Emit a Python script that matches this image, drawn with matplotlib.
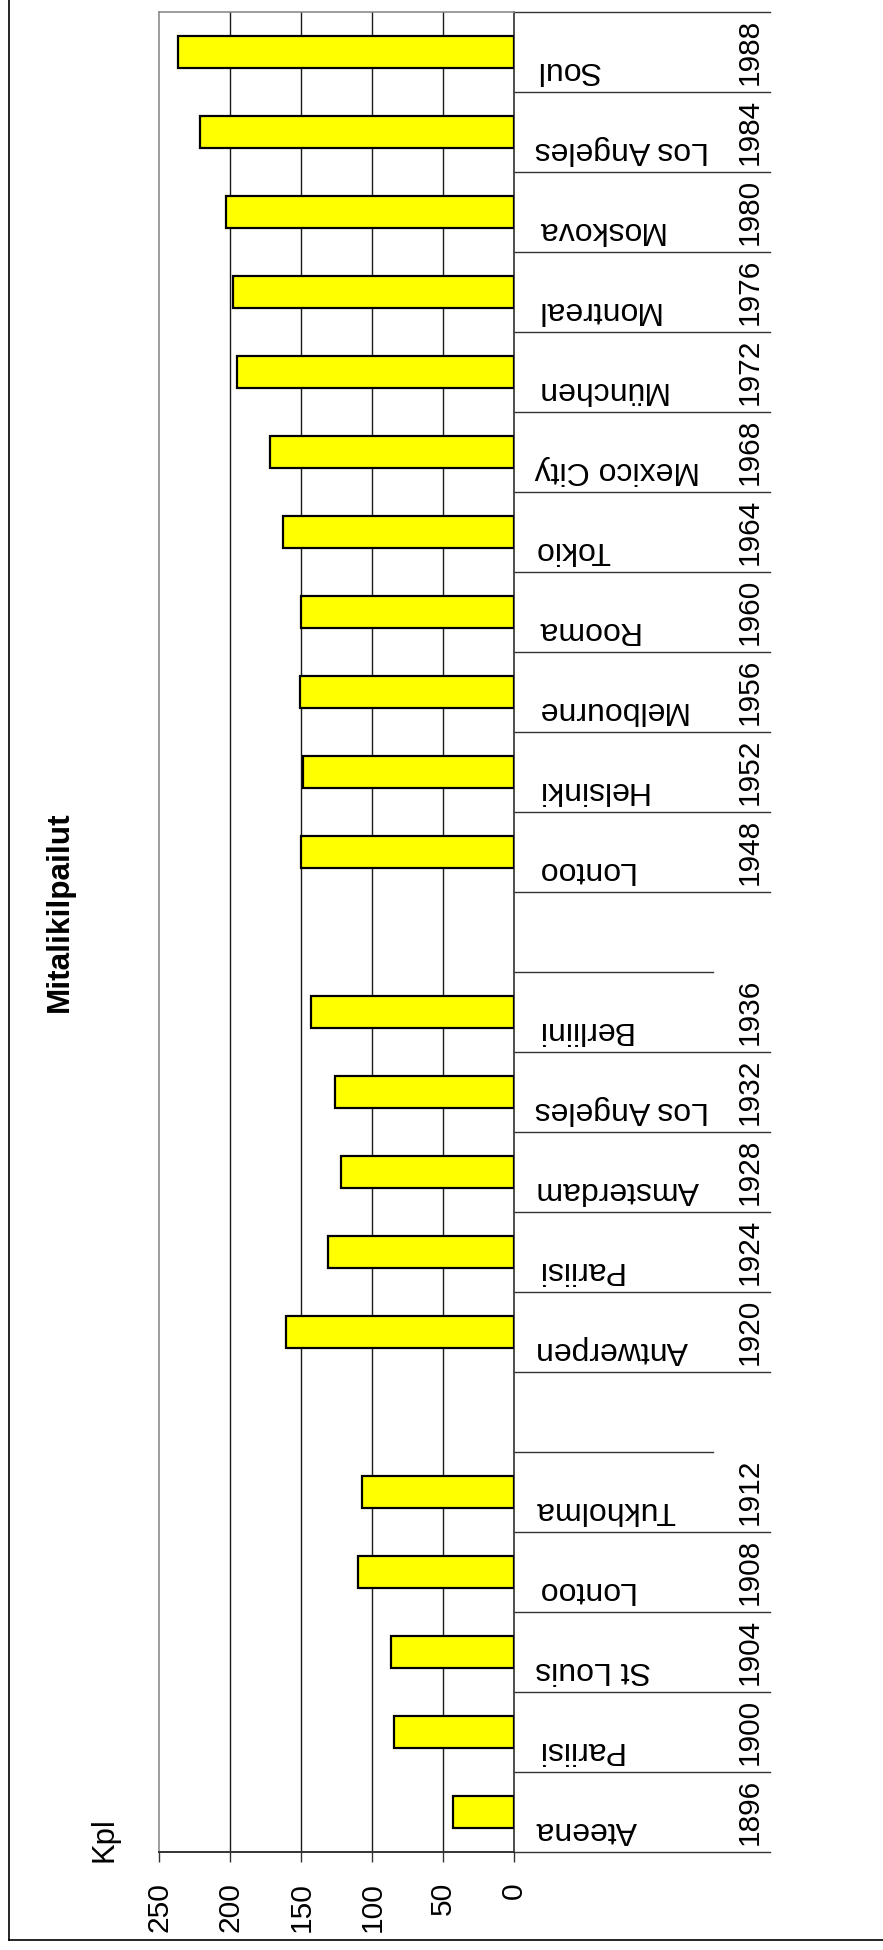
import numpy as np
import matplotlib
matplotlib.use('Agg')
import matplotlib.pyplot as plt
from matplotlib.lines import Line2D

# ---- data ----
years = ['1896', '1900', '1904', '1908', '1912', '', '1920', '1924', '1928', '1932', '1936', '',
         '1948', '1952', '1956', '1960', '1964', '1968', '1972', '1976', '1980', '1984', '1988']
cities = ['Ateena', 'Pariisi', 'St Louis', 'Lontoo', 'Tukholma', '', 'Antwerpen', 'Pariisi',
          'Amsterdam', 'Los Angeles', 'Berliini', '', 'Lontoo', 'Helsinki', 'Melbourne', 'Rooma',
          'Tokio', 'Mexico City', 'München', 'Montreal', 'Moskova', 'Los Angeles', 'Soul']
medal_events = [43, 85, 87, 110, 107, None, 161, 131, 122, 126, 143, None,
                150, 149, 151, 150, 163, 172, 195, 198, 203, 221, 237]
value_ticks = [0, 50, 100, 150, 200, 250]
title = 'Mitalikilpailut'
unit_label = 'Kpl'

plt.rcParams['font.family'] = ['Liberation Sans', 'DejaVu Sans']

W, H = 883, 1950
fig = plt.figure(figsize=(W / 100, H / 100), dpi=100)
L, R, T, B = 159.3, 514.3, 11.7, 1852.3
ax = fig.add_axes([L / W, 1 - B / H, (R - L) / W, (B - T) / H])

n = len(years)
pos = np.arange(n)
ax.set_ylim(-0.5, n - 0.5)
ax.set_xlim(value_ticks[-1], value_ticks[0])

idx = [i for i, v in enumerate(medal_events) if v is not None]
ax.barh([pos[i] for i in idx], [medal_events[i] for i in idx], height=0.4,
        color='#FFFF00', edgecolor='black', linewidth=1.6, zorder=3)

# grid
for t in value_ticks[1:-1]:
    ax.axvline(t, color='#1a1a1a', lw=1.0, zorder=1)

ax.set_xticks(value_ticks)
ax.set_xticklabels([str(t) for t in value_ticks], rotation=90, fontsize=21.6)
ax.tick_params(axis='x', direction='out', length=7.5, width=1, color='#333333', pad=14)
ax.set_yticks([])

for s in ['left', 'top']:
    ax.spines[s].set_color('#8c8c8c')
    ax.spines[s].set_linewidth(1.2)
ax.spines['bottom'].set_color('#333333')
ax.spines['bottom'].set_linewidth(1.4)
ax.spines['right'].set_color('#404040')
ax.spines['right'].set_linewidth(1.3)

tr = ax.get_yaxis_transform()
x_long = (770 - L) / (R - L)
x_short = (713 - L) / (R - L)
for k in range(n + 1):
    y = k - 0.5
    short = k < n and years[k] == ''
    ax.plot([1, x_short if short else x_long], [y, y], transform=tr, clip_on=False,
            color='#333333', lw=1.0)

x_city = (535 - L) / (R - L)
x_year = (750 - L) / (R - L)
for i in range(n):
    if cities[i]:
        ax.text(x_city, pos[i] - 0.125, cities[i], transform=tr, rotation=180,
                rotation_mode='anchor', ha='right', va='baseline', fontsize=23, clip_on=False)
    if years[i]:
        ax.text(x_year, pos[i], years[i], transform=tr, rotation=90,
                ha='center', va='center', fontsize=21.5, clip_on=False)

fig.text(59.5 / W, 1 - 912 / H, title, rotation=90, ha='center', va='center',
         fontsize=22.7, fontweight='bold')
fig.text(104 / W, 1 - 1840 / H, unit_label, rotation=90, ha='center', va='center', fontsize=22.4)

# chart border
fig.add_artist(Line2D([9.3 / W, 9.3 / W], [1 - 1940 / H, 1.01], color='black', lw=1.2))
fig.add_artist(Line2D([9.3 / W, 1.01], [1 - 1940 / H, 1 - 1940 / H], color='black', lw=1.2))

fig.savefig('out.png', dpi=100)
